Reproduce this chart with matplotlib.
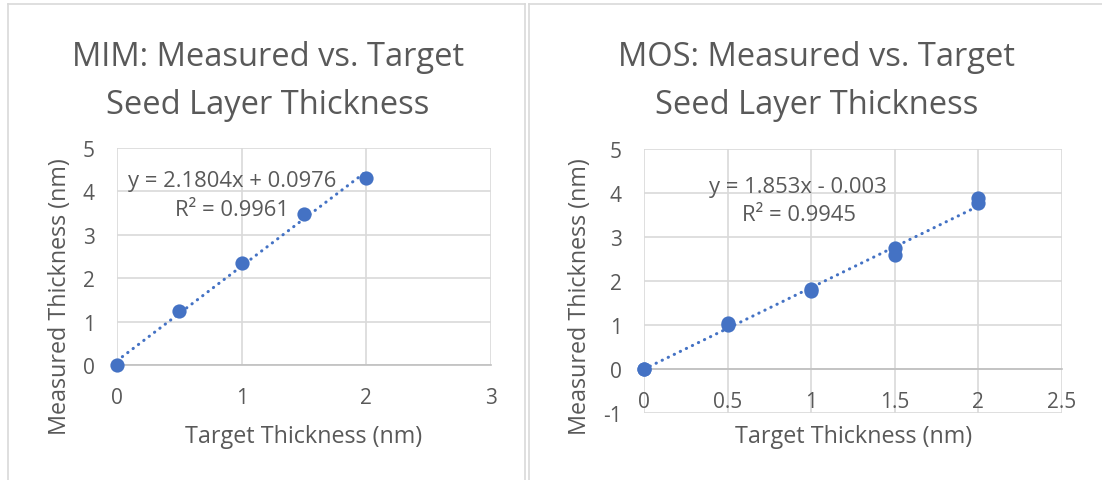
import matplotlib
matplotlib.use('Agg')
import matplotlib.pyplot as plt
from matplotlib.lines import Line2D
import numpy as np

plt.rcParams['font.family'] = ['Open Sans', 'DejaVu Sans']
plt.rcParams['axes.unicode_minus'] = False

# ---- data ----
mim_target = [0, 0.5, 1, 1.5, 2]
mim_measured = [0, 1.24, 2.36, 3.47, 4.32]
mim_slope, mim_intercept, mim_r2 = 2.1804, 0.0976, 0.9961

mos_target = [0, 0, 0.5, 0.5, 1, 1, 1.5, 1.5, 2, 2]
mos_measured = [0, 0, 1.00, 1.05, 1.77, 1.81, 2.74, 2.59, 3.88, 3.77]
mos_slope, mos_intercept, mos_r2 = 1.853, -0.003, 0.9945

titles = ["MIM: Measured vs. Target\nSeed Layer Thickness",
          "MOS: Measured vs. Target\nSeed Layer Thickness"]
xlabel = "Target Thickness (nm)"
ylabel = "Measured Thickness (nm)"
mim_xticks = [0, 1, 2, 3]
mim_yticks = [0, 1, 2, 3, 4, 5]
mos_xticks = [0, 0.5, 1, 1.5, 2, 2.5]
mos_xticklabels = ["0", "0.5", "1", "1.5", "2", "2.5"]
mos_yticks = [-1, 0, 1, 2, 3, 4, 5]

# ---- style ----
W, H = 1102, 481
BLUE = '#4472C4'
TXT = '#595959'
GRID = '#d9d9d9'
AXL = '#bfbfbf'
TICK_FS = 15
ANN_FS = 15.8
LAB_FS = 16.8
TITLE_FS = 23.5

fig = plt.figure(figsize=(W / 100, H / 100), dpi=100)


def rect(x0, x1, ytop, ybot):
    return [x0 / W, 1 - ybot / H, (x1 - x0) / W, (ybot - ytop) / H]


def fline(xs, ys):
    fig.add_artist(Line2D([x / W for x in xs], [1 - y / H for y in ys],
                          color=GRID, lw=1.2, transform=fig.transFigure))


# panel borders
fline([8, 8], [5, 481])
fline([8, 525], [5, 5])
fline([525, 525], [5, 481])
fline([529, 529], [5, 481])
fline([529, 1102], [5, 5])


def eq_text(slope, intercept):
    sign = '+' if intercept >= 0 else '-'
    return f"y = {slope:g}x {sign} {abs(intercept):g}"


def setup(ax, xlim, ylim, xticks, yticks, xticklabels=None):
    ax.set_xlim(*xlim)
    ax.set_ylim(*ylim)
    ax.set_xticks(xticks)
    ax.set_yticks(yticks)
    if xticklabels is not None:
        ax.set_xticklabels(xticklabels)
    ax.grid(True, color=GRID, lw=1.2, zorder=0)
    ax.set_axisbelow(True)
    for s in ['top', 'right', 'left']:
        ax.spines[s].set_visible(False)
    ax.spines['bottom'].set_position(('data', 0))
    ax.spines['bottom'].set_color(AXL)
    ax.spines['bottom'].set_linewidth(1.2)
    ax.spines['bottom'].set_zorder(1)
    ax.tick_params(axis='both', length=0, labelsize=TICK_FS, labelcolor=TXT)
    ax.tick_params(axis='x', pad=16)
    ax.tick_params(axis='y', pad=16)
    ax.patch.set_alpha(0)


def draw(ax, x, y, slope, intercept):
    xs = np.array([min(x), max(x)])
    ax.plot(xs, slope * xs + intercept, color=BLUE, lw=2.2,
            linestyle=(0, (0.1, 2.1)), dash_capstyle='round', zorder=2)
    ax.scatter(x, y, s=105, color=BLUE, zorder=3, linewidths=0, clip_on=False)


# ---- left panel ----
ax1 = fig.add_axes(rect(117, 491, 149, 366))
setup(ax1, (0, 3), (0, 5), mim_xticks, mim_yticks)
draw(ax1, mim_target, mim_measured, mim_slope, mim_intercept)
ax1.text(0.92, 4.13, eq_text(mim_slope, mim_intercept), ha='center',
         va='baseline', fontsize=ANN_FS, color=TXT)
ax1.text(0.92, 3.46, f"R² = {mim_r2}", ha='center', va='baseline',
         fontsize=ANN_FS, color=TXT)

# ---- right panel ----
ax2 = fig.add_axes(rect(644, 1062, 150, 414))
setup(ax2, (0, 2.5), (-1, 5), mos_xticks, mos_yticks, mos_xticklabels)
draw(ax2, mos_target, mos_measured, mos_slope, mos_intercept)
ax2.text(0.92, 4.03, eq_text(mos_slope, mos_intercept), ha='center',
         va='baseline', fontsize=ANN_FS, color=TXT)
ax2.text(0.93, 3.39, f"R² = {mos_r2}", ha='center', va='baseline',
         fontsize=ANN_FS, color=TXT)

# ---- titles & axis labels ----
for cx, t in zip([268, 817], titles):
    l1, l2 = t.split('\n')
    fig.text(cx / W, 1 - 66 / H, l1, ha='center', va='baseline',
             fontsize=TITLE_FS, color=TXT)
    fig.text(cx / W, 1 - 114 / H, l2, ha='center', va='baseline',
             fontsize=TITLE_FS, color=TXT)

for cx in [303.5, 853.7]:
    fig.text(cx / W, 1 - 443 / H, xlabel, ha='center', va='baseline',
             fontsize=LAB_FS, color=TXT)
for cx in [60, 580]:
    fig.text(cx / W, 1 - 297 / H, ylabel, ha='center', va='center',
             rotation=90, fontsize=LAB_FS, color=TXT)

fig.savefig('out.png', dpi=100, facecolor='white')
